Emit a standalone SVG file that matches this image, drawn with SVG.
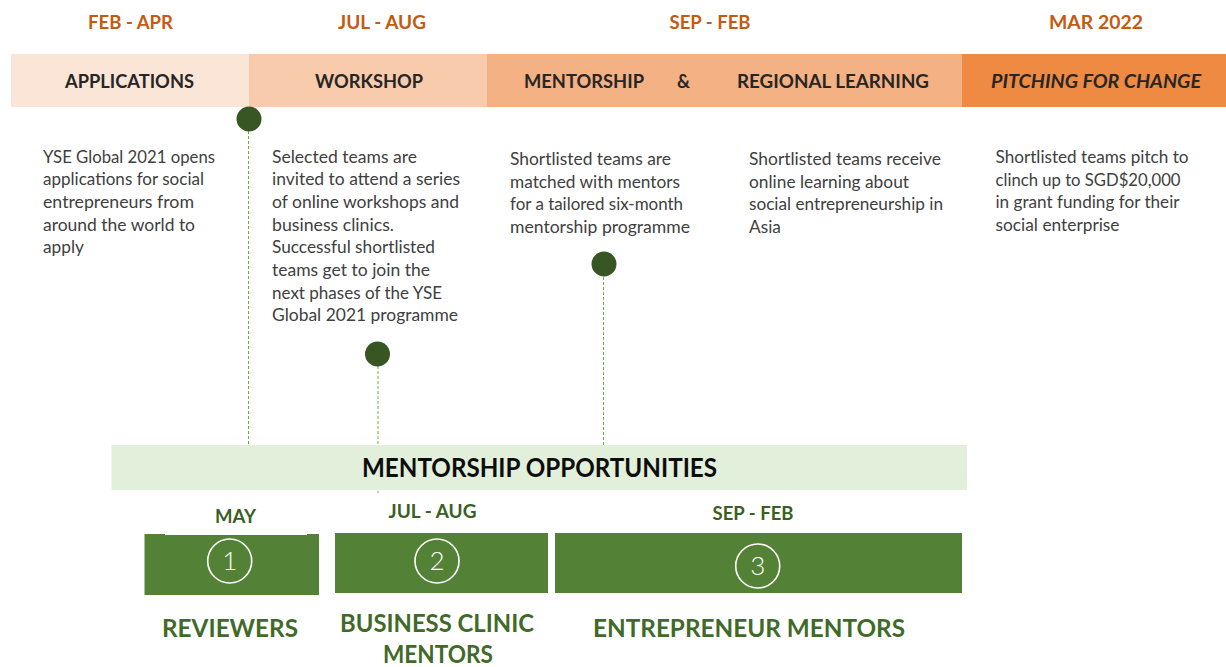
<svg xmlns="http://www.w3.org/2000/svg" width="1226" height="667" viewBox="0 0 1226 667">
<style>
text{font-family:Lato,"Open Sans","Liberation Sans",sans-serif}
.date{font-size:19px;font-weight:700;fill:#C55A11;text-anchor:middle}
.bar{font-size:19px;font-weight:700;fill:#262626}
.body{font-size:17.3px;fill:#404040}
.dot{fill:#375623}
.conn{stroke:#70AD47;stroke-width:1;stroke-dasharray:3 2;fill:none}
.gbox{fill:#538135}
.ring{fill:none;stroke:#ffffff;stroke-width:1.6}
.num{font-size:26px;font-weight:300;fill:#ffffff;text-anchor:middle}
.mon{font-size:18.5px;font-weight:700;fill:#3A5F22;text-anchor:middle}
.role{font-size:25px;font-weight:700;fill:#416A28;text-anchor:middle}
</style>
<rect width="1226" height="667" fill="#ffffff"/>

<g id="connectors">
<line class="conn" x1="248.5" y1="131" x2="248.5" y2="445"/>
<line class="conn" x1="378" y1="366" x2="378" y2="493"/>
<line class="conn" x1="603.5" y1="277" x2="603.5" y2="445"/>
</g>

<g id="dates">
<text class="date" x="130.5" y="29" textLength="85" lengthAdjust="spacingAndGlyphs">FEB - APR</text>
<text class="date" x="382" y="29" textLength="88" lengthAdjust="spacingAndGlyphs">JUL - AUG</text>
<text class="date" x="710" y="29" textLength="81" lengthAdjust="spacingAndGlyphs">SEP - FEB</text>
<text class="date" x="1096" y="29" textLength="94" lengthAdjust="spacingAndGlyphs">MAR 2022</text>
</g>

<g id="phase-applications">
<rect x="11" y="54" width="238" height="53" fill="#FBE5D6"/>
<text class="bar" x="65" y="88" textLength="129" lengthAdjust="spacingAndGlyphs">APPLICATIONS</text>
</g>
<g id="phase-workshop">
<rect x="249" y="54" width="238" height="53" fill="#F8CBAD"/>
<text class="bar" x="315" y="88" textLength="108" lengthAdjust="spacingAndGlyphs">WORKSHOP</text>
</g>
<g id="phase-mentorship">
<rect x="487" y="54" width="475" height="53" fill="#F4B183"/>
<text class="bar" x="524" y="88" textLength="120" lengthAdjust="spacingAndGlyphs">MENTORSHIP</text>
<text class="bar" x="677" y="88" textLength="13" lengthAdjust="spacingAndGlyphs">&amp;</text>
<text class="bar" x="737" y="88" textLength="192" lengthAdjust="spacingAndGlyphs">REGIONAL LEARNING</text>
</g>
<g id="phase-pitching">
<rect x="962" y="54" width="264" height="53" fill="#EE8A42"/>
<text class="bar" x="991" y="88" font-style="italic" textLength="210" lengthAdjust="spacingAndGlyphs">PITCHING FOR CHANGE</text>
</g>

<g id="dot-1"><circle class="dot" cx="249" cy="119" r="12.5"/></g>
<g id="dot-2"><circle class="dot" cx="377.5" cy="354" r="12.5"/></g>
<g id="dot-3"><circle class="dot" cx="604" cy="264" r="12.5"/></g>

<g id="desc-applications">
<text class="body" x="43" y="162.5" textLength="172" lengthAdjust="spacingAndGlyphs">YSE Global 2021 opens</text>
<text class="body" x="43" y="185.2" textLength="161" lengthAdjust="spacingAndGlyphs">applications for social</text>
<text class="body" x="43" y="207.8" textLength="151" lengthAdjust="spacingAndGlyphs">entrepreneurs from</text>
<text class="body" x="43" y="230.5" textLength="152" lengthAdjust="spacingAndGlyphs">around the world to</text>
<text class="body" x="43" y="253.2">apply</text>
</g>

<g id="desc-workshop">
<text class="body" x="272" y="162.5" textLength="145" lengthAdjust="spacingAndGlyphs">Selected teams are</text>
<text class="body" x="272" y="185.2" textLength="188" lengthAdjust="spacingAndGlyphs">invited to attend a series</text>
<text class="body" x="272" y="207.8" textLength="187" lengthAdjust="spacingAndGlyphs">of online workshops and</text>
<text class="body" x="272" y="230.5" textLength="122" lengthAdjust="spacingAndGlyphs">business clinics.</text>
<text class="body" x="272" y="253.2" textLength="163" lengthAdjust="spacingAndGlyphs">Successful shortlisted</text>
<text class="body" x="272" y="275.8" textLength="158" lengthAdjust="spacingAndGlyphs">teams get to join the</text>
<text class="body" x="272" y="298.5" textLength="170" lengthAdjust="spacingAndGlyphs">next phases of the YSE</text>
<text class="body" x="272" y="321.2" textLength="186" lengthAdjust="spacingAndGlyphs">Global 2021 programme</text>
</g>

<g id="desc-mentorship">
<text class="body" x="510" y="165" textLength="161" lengthAdjust="spacingAndGlyphs">Shortlisted teams are</text>
<text class="body" x="510" y="187.7" textLength="170" lengthAdjust="spacingAndGlyphs">matched with mentors</text>
<text class="body" x="510" y="210.3" textLength="173" lengthAdjust="spacingAndGlyphs">for a tailored six-month</text>
<text class="body" x="510" y="233" textLength="180" lengthAdjust="spacingAndGlyphs">mentorship programme</text>
</g>

<g id="desc-regional">
<text class="body" x="749" y="165" textLength="192" lengthAdjust="spacingAndGlyphs">Shortlisted teams receive</text>
<text class="body" x="749" y="187.7" textLength="160" lengthAdjust="spacingAndGlyphs">online learning about</text>
<text class="body" x="749" y="210.3" textLength="194" lengthAdjust="spacingAndGlyphs">social entrepreneurship in</text>
<text class="body" x="749" y="233">Asia</text>
</g>

<g id="desc-pitching">
<text class="body" x="995.5" y="163" textLength="193" lengthAdjust="spacingAndGlyphs">Shortlisted teams pitch to</text>
<text class="body" x="995.5" y="185.7" textLength="185" lengthAdjust="spacingAndGlyphs">clinch up to SGD$20,000</text>
<text class="body" x="995.5" y="208.3" textLength="184" lengthAdjust="spacingAndGlyphs">in grant funding for their</text>
<text class="body" x="995.5" y="231" textLength="124" lengthAdjust="spacingAndGlyphs">social enterprise</text>
</g>

<g id="mentorship-opportunities">
<rect x="111.5" y="445" width="855.5" height="45" fill="#E2EFDA"/>
<text x="362" y="477" font-size="26px" font-weight="700" fill="#0D0D0D" textLength="355" lengthAdjust="spacingAndGlyphs">MENTORSHIP OPPORTUNITIES</text>
</g>

<g id="opportunity-1">
<rect class="gbox" x="144.5" y="534" width="174.5" height="61"/>
<rect x="165" y="532.5" width="142" height="2.5" fill="#ffffff"/>
<circle class="ring" cx="229.7" cy="561" r="22"/>
<text class="num" x="229.7" y="570">1</text>
<text class="mon" x="235.5" y="523" textLength="41" lengthAdjust="spacingAndGlyphs">MAY</text>
<text class="role" x="230" y="637" textLength="136" lengthAdjust="spacingAndGlyphs">REVIEWERS</text>
</g>

<g id="opportunity-2">
<rect class="gbox" x="335" y="533" width="213" height="60"/>
<circle class="ring" cx="437" cy="561" r="22"/>
<text class="num" x="437" y="570">2</text>
<text class="mon" x="432.5" y="518" textLength="88" lengthAdjust="spacingAndGlyphs">JUL - AUG</text>
<text class="role" x="437" y="632" textLength="194" lengthAdjust="spacingAndGlyphs">BUSINESS CLINIC</text>
<text class="role" x="438" y="663" textLength="110" lengthAdjust="spacingAndGlyphs">MENTORS</text>
</g>

<g id="opportunity-3">
<rect class="gbox" x="555" y="533" width="407" height="60"/>
<circle class="ring" cx="757.7" cy="566" r="22"/>
<text class="num" x="757.7" y="575">3</text>
<text class="mon" x="753" y="520" textLength="81" lengthAdjust="spacingAndGlyphs">SEP - FEB</text>
<text class="role" x="749" y="637" textLength="312" lengthAdjust="spacingAndGlyphs">ENTREPRENEUR MENTORS</text>
</g>
</svg>
